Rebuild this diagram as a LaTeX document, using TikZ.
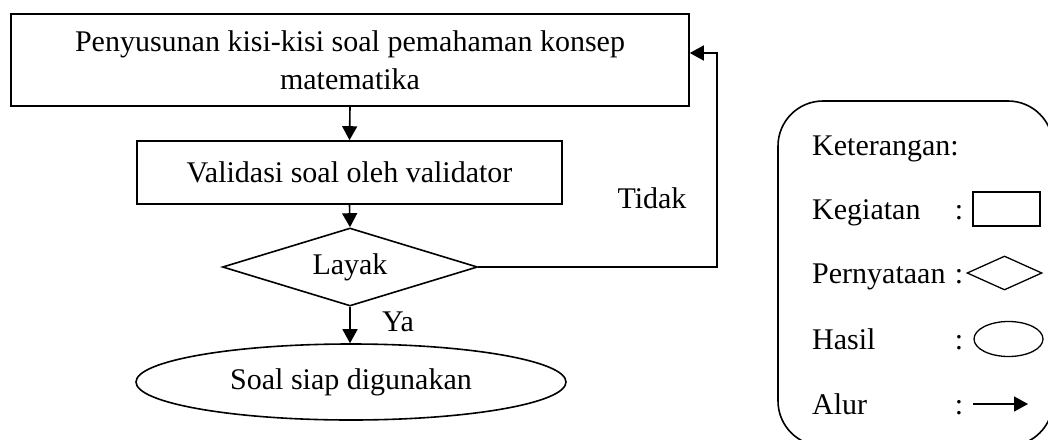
\documentclass[tikz,border=0pt]{standalone}
\usepackage{fontspec}
\setmainfont{Liberation Serif}
\usetikzlibrary{shapes.geometric,arrows.meta,calc}
\begin{document}
\begin{tikzpicture}[x=1pt,y=-1pt,
  every node/.style={font=\fontsize{30}{38}\selectfont, inner sep=0pt},
  box/.style={draw, line width=1.6pt, minimum width=#1},
  arr/.style={line width=1.6pt, -{Triangle[length=14pt,width=15pt]}},
  lbl/.style={anchor=base west},
  colon/.style={anchor=base},
  legendbox/.style={draw, line width=1.6pt, rounded corners=45pt, minimum width=275pt, minimum height=345pt}
]
\useasboundingbox (0,0) rectangle (1048,439);
\clip (0,0) rectangle (1048,439);

% flowchart
\node[box=678pt, minimum height=92pt, align=center] (top) at (350,60)
  {Penyusunan kisi-kisi soal pemahaman konsep\\matematika};
\node[box=425pt, minimum height=63pt] (val) at (349.5,172.5) {Validasi soal oleh validator};
\node[draw, line width=1.6pt, shape=diamond, aspect=3.27, minimum width=255pt, minimum height=78pt] (dec) at (350,267) {Layak};
\node[draw, line width=1.6pt, shape=ellipse, minimum width=430pt, minimum height=76pt] (res) at (351,382) {Soal siap digunakan};

\draw[arr] (top.south) -- (val.north);
\draw[arr] (val.south) -- (dec.north);
\draw[arr] (dec.south) -- (dec.south |- res.north);

\coordinate (turn) at (717,53);
\draw[arr] (dec.east) -| (turn) -- (turn -| top.east);

\node (tidak) at (652,198) {Tidak};
\node (ya) at (398,322) {Ya};

% legend
\node[legendbox] (leg) at (915.5,273.5) {};
\node[lbl] (k0) at (812,155) {Keterangan:};
\node[lbl] (k1) at (812,219) {Kegiatan};
\node[lbl] (k2) at (812,283) {Pernyataan};
\node[lbl] (k3) at (812,349) {Hasil};
\node[lbl] (k4) at (812,414) {Alur};
\node[colon] (c1) at (959,219) {:};
\node[colon] (c2) at (959,283) {:};
\node[colon] (c3) at (959,349) {:};
\node[colon] (c4) at (959,414) {:};
\node[draw, line width=1.3pt, minimum width=67pt, minimum height=34pt] (s1) at (1006.5,209) {};
\node[draw, line width=1.3pt, shape=diamond, aspect=2.2, minimum width=75pt, minimum height=34pt] (s2) at (1004.5,273) {};
\node[draw, line width=1.3pt, shape=ellipse, minimum width=69pt, minimum height=35pt] (s3) at (1008.5,339) {};
\coordinate (a1) at (973,404);
\coordinate (a2) at (1028,404);
\draw[arr] (a1) -- (a2);
\end{tikzpicture}
\end{document}
